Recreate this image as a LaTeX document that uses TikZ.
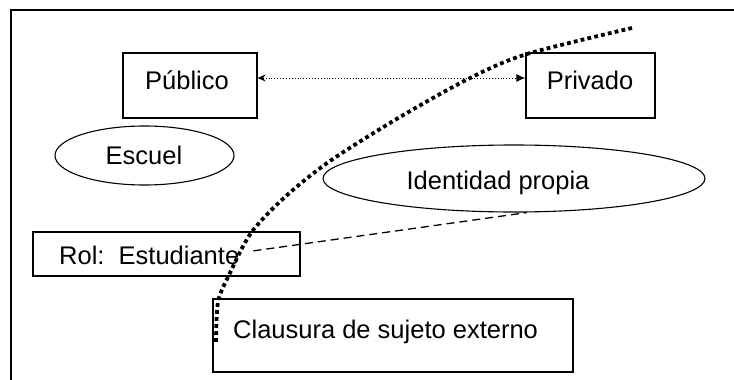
\documentclass[tikz,border=0pt]{standalone}
\usepackage{fontspec}
\setmainfont{Liberation Sans}
\usetikzlibrary{arrows.meta,shapes.geometric}
\begin{document}
\begin{tikzpicture}[x=1pt,y=-1pt,
  boxshape/.style={draw,line width=1.3pt,inner sep=0pt,minimum width=#1},
  ellshape/.style={draw,ellipse,line width=1.1pt,inner sep=0pt,minimum width=#1},
  lbl/.style={font=\fontsize{25.5}{30}\selectfont,inner sep=0pt,anchor=base},
  frame/.style={line width=1.8pt},
  bigdots/.style={line width=3.8pt,dash pattern=on 3.8pt off 3.2pt},
  linkarrow/.style={line width=0.9pt,dotted,{Stealth[length=8pt,width=7pt]}-{Latex[length=9pt,width=8pt]}},
  dashlink/.style={line width=1.3pt,dash pattern=on 8pt off 5pt}]
\useasboundingbox (0,0) rectangle (734,380);
% frame (only top and left edges visible)
\coordinate (ftop) at (734,10);
\coordinate (fcorner) at (11,10);
\coordinate (fbot) at (11,380);
\draw[frame] (ftop) -- (fcorner) -- (fbot);
% boxes and ellipses
\node[boxshape=134pt,minimum height=65pt] (pub) at (190,85.5) {};
\node[boxshape=129pt,minimum height=65pt] (priv) at (590.5,85.5) {};
\node[ellshape=179pt,minimum height=59pt] (esc) at (144.5,155.5) {};
\node[ellshape=382pt,minimum height=67pt] (ident) at (514,178.5) {};
\node[boxshape=267pt,minimum height=44pt] (rol) at (166.5,254) {};
\node[boxshape=360pt,minimum height=73pt] (clau) at (393,335.5) {};
% texts
\node[lbl] (tpub) at (187,89) {Público};
\node[lbl] (tpriv) at (590,89) {Privado};
\node[lbl] (tesc) at (144,164) {Escuel};
\node[lbl] (tident) at (498,189) {Identidad propia};
\node[lbl,anchor=base west] (trol) at (59,264) {Rol:\ \ Estudiante};
\node[lbl,anchor=base west] (tclau) at (233,338) {Clausura de sujeto externo};
% connectors
\draw[linkarrow] ([yshift=7.5pt]pub.east) -- ([yshift=7.5pt]priv.west);
\draw[dashlink] ([xshift=14pt,yshift=4pt]trol.east) -- ([xshift=13pt]ident.south);
% big dotted curve
\draw[bigdots] plot[smooth,tension=0.5] coordinates {(632,28) (527,54) (470,78) (400,117) (330,161) (285,197) (251,233) (229,275) (218,302) (216,343)};
\end{tikzpicture}
\end{document}
